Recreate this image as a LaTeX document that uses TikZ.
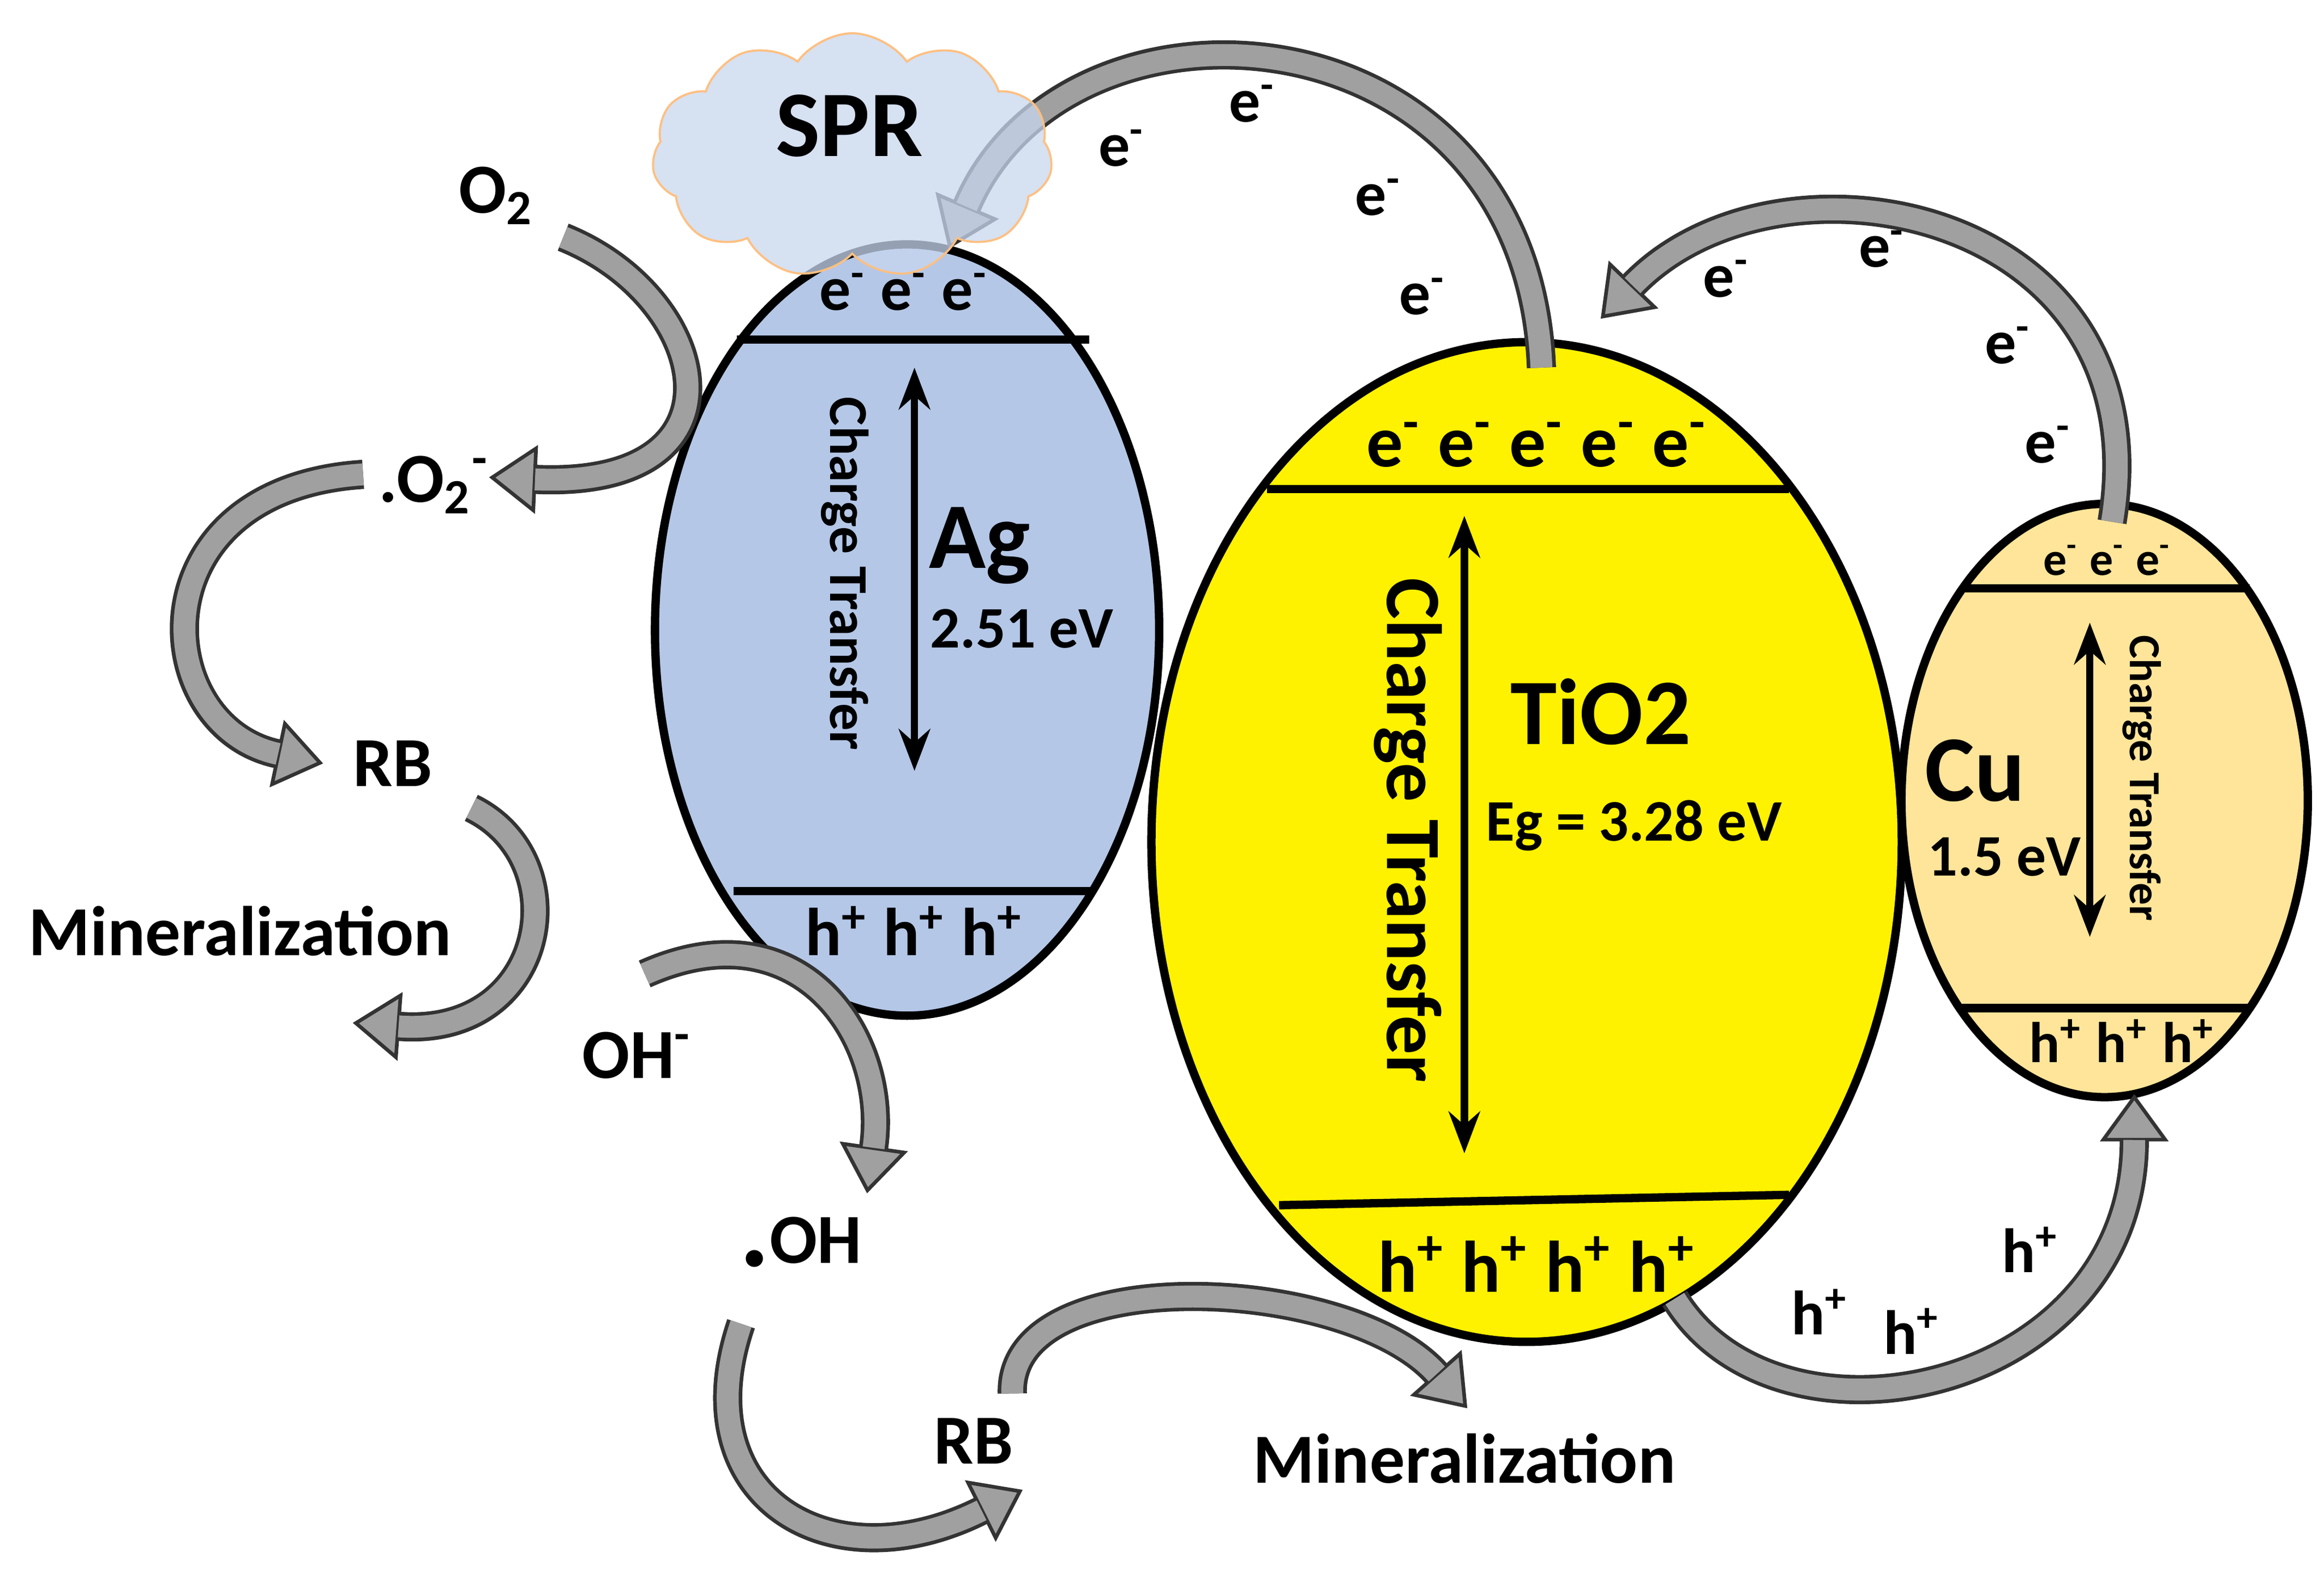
\documentclass[tikz,border=0pt]{standalone}
\usepackage{fontspec}
\setmainfont{Carlito}
\usetikzlibrary{arrows.meta,shapes.symbols,shapes.geometric}
\definecolor{agblue}{RGB}{180,199,231}
\definecolor{cuor}{RGB}{255,229,153}
\definecolor{arrg}{RGB}{160,160,160}
\definecolor{sprb}{RGB}{200,215,238}
\tikzset{
 band/.style={line width=1.6pt},
 lbl/.style={font=\bfseries\fontsize{13.5}{14}\selectfont},
 evl/.style={font=\bfseries\fontsize{11.3}{12}\selectfont,anchor=west,inner sep=0},
 el/.style={font=\bfseries\fontsize{12}{13}\selectfont},
 fatout/.style={line width=5.6pt, draw=black!80,
   -{Triangle[length=0.32cm,width=0.46cm,line width=0.7pt,fill=arrg]}},
 fatin/.style={line width=4.2pt, draw=arrg, shorten >=0.31cm},
 dbl/.style={{Stealth[length=8pt]}-{Stealth[length=8pt]}, line width=1.4pt}
}
\newcommand\fatarr[1]{\draw[fatout] #1; \draw[fatin] #1;}
\begin{document}
\begin{tikzpicture}[x=0.01cm,y=-0.01cm]
\useasboundingbox (0,0) rectangle (1568,1067);
% Ag
\node[draw,line width=1.6pt,fill=agblue,ellipse,inner sep=0,minimum width=3.4cm,minimum height=5.2cm] (ag) at (612,425) {};
\draw[band] (497,229) -- (735,229);
\draw[band] (495,601) -- (737,601);
% TiO2
\node[draw,line width=1.6pt,fill=yellow,ellipse,inner sep=0,minimum width=5.06cm,minimum height=6.74cm] (ti) at (1030,568) {};
\draw[band] (855,330) -- (1207,330);
\draw[band] (863,813) -- (1207,806);
% Cu
\node[draw,line width=1.6pt,fill=cuor,ellipse,inner sep=0,minimum width=2.74cm,minimum height=4cm] (cu) at (1420,540) {};
\draw[band] (1323,397) -- (1518,397);
\draw[band] (1323,680) -- (1518,680);
% fat arrows
\fatarr{(1040,248) .. controls (1030,0) and (720,-20) .. (640,168)}
\fatarr{(1425,352) .. controls (1460,140) and (1200,90) .. (1080,215)}
\fatarr{(380,160) .. controls (480,200) and (510,330) .. (330,322)}
\fatarr{(245,320) .. controls (90,330) and (100,490) .. (218,515)}
\fatarr{(318,545) .. controls (390,580) and (370,700) .. (238,690)}
\fatarr{(435,657) .. controls (540,610) and (600,700) .. (585,805)}
\fatarr{(500,893) .. controls (460,1010) and (560,1070) .. (690,1005)}
\fatarr{(683,940) .. controls (680,850) and (910,860) .. (990,950)}
\fatarr{(1130,876) .. controls (1200,990) and (1440,940) .. (1440,738)}
% SPR cloud
\node[cloud,cloud puffs=11,cloud puff arc=110,draw=orange!50,fill=sprb,fill opacity=0.75,minimum width=2.7cm,minimum height=1.65cm,aspect=1.6] (spr) at (575,105) {};
\node[font=\bfseries\fontsize{18}{20}\selectfont] (sprt) at (573,85) {SPR};
% band labels
\node[el] (age) at (610,197) {e\textsuperscript{-} e\textsuperscript{-} e\textsuperscript{-}};
\node[font=\bfseries\fontsize{13}{14}\selectfont] (agh) at (617,628) {h\textsuperscript{+} h\textsuperscript{+} h\textsuperscript{+}};
\node[font=\bfseries\fontsize{14}{15}\selectfont] (tie) at (1037,300) {e\textsuperscript{-} e\textsuperscript{-} e\textsuperscript{-} e\textsuperscript{-} e\textsuperscript{-}};
\node[font=\bfseries\fontsize{14}{15}\selectfont] (tih) at (1037,853) {h\textsuperscript{+} h\textsuperscript{+} h\textsuperscript{+} h\textsuperscript{+}};
\node[font=\bfseries\fontsize{9}{10}\selectfont] (cue) at (1422,378) {e\textsuperscript{-} e\textsuperscript{-} e\textsuperscript{-}};
\node[font=\bfseries\fontsize{11}{12}\selectfont] (cuh) at (1432,702) {h\textsuperscript{+} h\textsuperscript{+} h\textsuperscript{+}};
% charge transfer arrows
\coordinate (a1) at (617,248); \coordinate (a2) at (617,520);
\draw[dbl] (a1) -- (a2);
\coordinate (t1) at (988,348); \coordinate (t2) at (988,778);
\draw[dbl] (t1) -- (t2);
\coordinate (c1) at (1410,420); \coordinate (c2) at (1410,632);
\draw[dbl] (c1) -- (c2);
\node[rotate=-90,font=\bfseries\fontsize{10.5}{11}\selectfont] (agct) at (570,387) {Charge Transfer};
\node[rotate=-90,font=\bfseries\fontsize{15}{16}\selectfont] (tict) at (950,560) {Charge Transfer};
\node[rotate=-90,font=\bfseries\fontsize{8.5}{9}\selectfont] (cuct) at (1445,525) {Charge Transfer};
\node[anchor=west,inner sep=0,font=\bfseries\fontsize{18}{20}\selectfont] (agt) at (626,368) {Ag};
\node[evl] (agev) at (627,424) {2.51 eV};
\node[font=\bfseries\fontsize{18}{20}\selectfont] (tit) at (1080,480) {TiO2};
\node[evl] (tiev) at (1002,557) {Eg = 3.28 eV};
\node[anchor=west,inner sep=0,font=\bfseries\fontsize{18}{20}\selectfont] (cut) at (1298,520) {Cu};
\node[evl] (cuev) at (1300,578) {1.5 eV};
% species labels
\node[lbl] (o2) at (335,132) {O\textsubscript{2}};
\node[lbl] (o2m) at (293,327) {.O\textsubscript{2}\textsuperscript{-}};
\node[lbl] (rb1) at (265,515) {RB};
\node[lbl] (min1) at (162,628) {Mineralization};
\node[lbl] (oh) at (430,712) {OH\textsuperscript{-}};
\node[lbl] (ohr) at (540,838) {\raisebox{-0.1ex}{\fontsize{22}{22}\selectfont.}OH};
\node[lbl] (rb2) at (657,972) {RB};
\node[lbl] (min2) at (988,984) {Mineralization};
% electrons / holes along arrows
\foreach \p/\n in {{(757,100)}/e1,{(845,70)}/e2,{(930,133)}/e3,{(960,200)}/e4,{(1165,188)}/e5,{(1270,168)}/e6,{(1355,233)}/e7,{(1382,300)}/e8}
  \node[el] (\n) at \p {e\textsuperscript{-}};
\foreach \p/\n in {{(1228,885)}/h1,{(1290,898)}/h2,{(1370,843)}/h3}
  \node[el] (\n) at \p {h\textsuperscript{+}};
\end{tikzpicture}
\end{document}
